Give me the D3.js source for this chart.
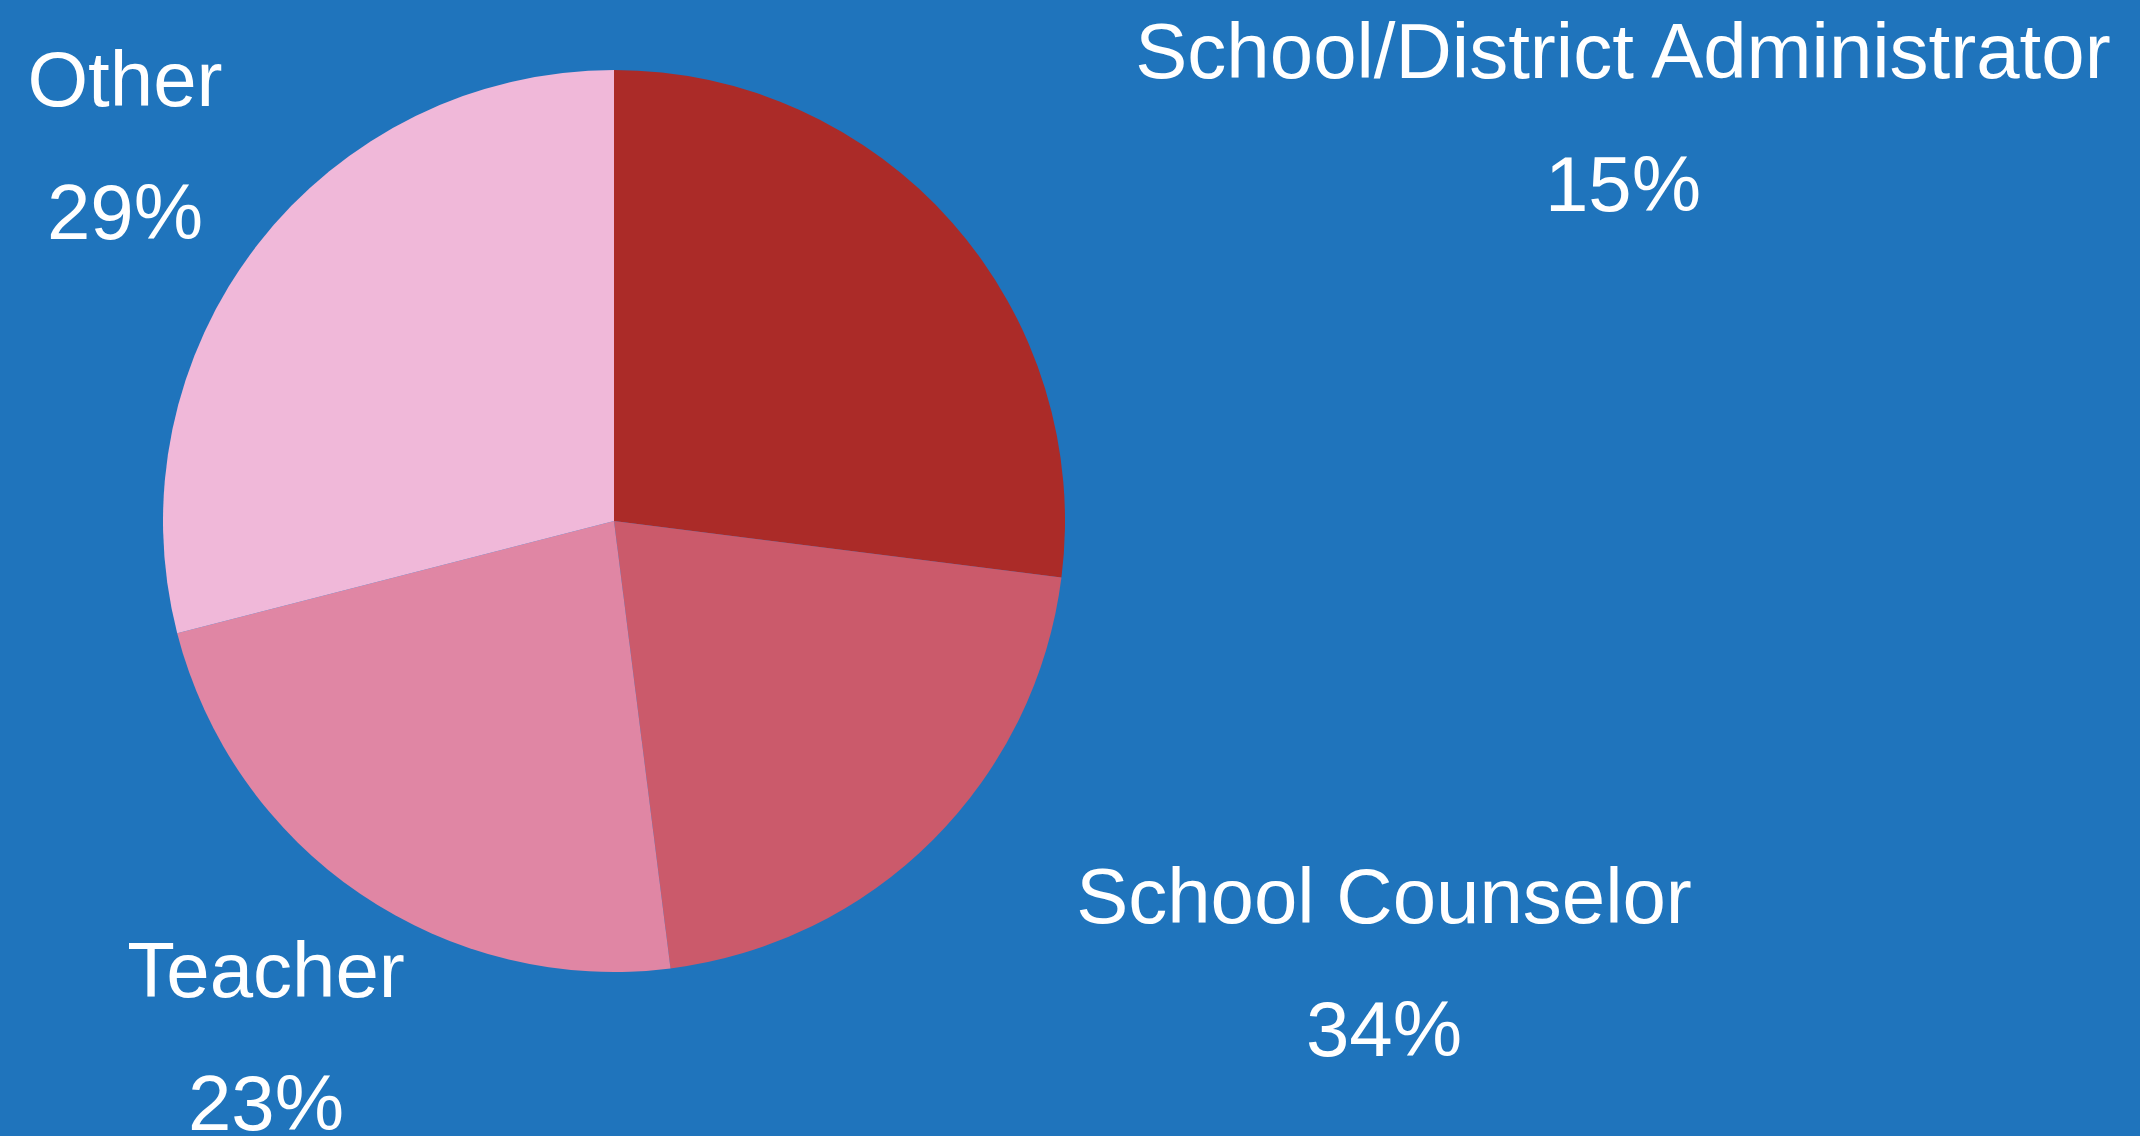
<!DOCTYPE html>
<html>
<head>
<meta charset="utf-8">
<script src="https://cdn.jsdelivr.net/npm/d3@7"></script>
<style>
  html, body { margin: 0; padding: 0; background: #1F74BC; }
  svg { display: block; }
</style>
</head>
<body>
<svg id="chart" width="2140" height="1136"></svg>
<script>
// Data
const categories = ["School/District Administrator", "School Counselor", "Teacher", "Other"];
const sliceValues = [27, 21, 23, 29];            // slice sizes as drawn
const percentLabels = ["15%", "34%", "23%", "29%"]; // label texts as printed
const sliceColors = ["#AB2B28", "#CB5A6B", "#E086A4", "#F0B8D9"];

// Layout (not data)
const W = 2140, H = 1136;
const cx = 614, cy = 521, R = 451;
const labelPos = [
  { x: 1623, y: 78 },
  { x: 1384, y: 923 },
  { x: 266, y: 997 },
  { x: 125, y: 106 }
];
const lineGap = 133;

const svg = d3.select("#chart");
svg.append("rect").attr("width", W).attr("height", H).attr("fill", "#1F74BC");

const pie = d3.pie().sort(null).value(d => d);
const arc = d3.arc().innerRadius(0).outerRadius(R);
const color = d3.scaleOrdinal().domain(categories).range(sliceColors);

const g = svg.append("g").attr("transform", `translate(${cx},${cy})`);
g.selectAll("path")
  .data(pie(sliceValues))
  .join("path")
  .attr("d", arc)
  .attr("fill", (d, i) => color(categories[i]));

const labels = svg.append("g")
  .attr("font-family", "'Liberation Sans', Arial, sans-serif")
  .attr("font-size", 78)
  .attr("fill", "#ffffff")
  .attr("text-anchor", "middle");

categories.forEach((c, i) => {
  const t = labels.append("text")
    .attr("x", labelPos[i].x)
    .attr("y", labelPos[i].y);
  t.append("tspan").attr("x", labelPos[i].x).attr("y", labelPos[i].y).text(c);
  t.append("tspan").attr("x", labelPos[i].x).attr("y", labelPos[i].y + lineGap).text(percentLabels[i]);
});
</script>
</body>
</html>
